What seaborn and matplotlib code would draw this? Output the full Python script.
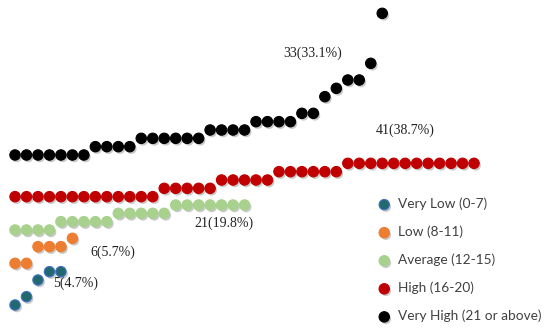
import matplotlib
matplotlib.use('Agg')
import matplotlib.pyplot as plt
import matplotlib.patheffects as pe
import pandas as pd
import seaborn as sns

# Sorted scores of each level (one dot per respondent).
very_low = [3, 4, 6, 7, 7]
low = [8, 8, 10, 10, 10, 11]
average = [12] * 4 + [13] * 5 + [14] * 5 + [15] * 7
high = [16] * 13 + [17] * 5 + [18] * 5 + [19] * 6 + [20] * 12
very_high = [21] * 7 + [22] * 4 + [23] * 6 + [24] * 4 + [25] * 4 + [26] * 2 + [28, 29, 30, 30, 32, 38]

levels = ['Very Low (0-7)', 'Low (8-11)', 'Average (12-15)', 'High (16-20)', 'Very High (21 or above)']
series = [very_low, low, average, high, very_high]
counts = ['5(4.7%)', '6(5.7%)', '21(19.8%)', '41(38.7%)', '33(33.1%)']

fills = ['#22696F', '#ED7D31', '#A9D18E', '#C00000', '#000000']
edges = ['#4472C4', '#ED7D31', '#A9D18E', '#C00000', '#000000']

# Position of each count label (index, score)
label_pos = [(5.25, 5.65), (8.5, 9.3), (18.2, 12.85), (34.0, 24.0), (25.9, 33.2)]

rows = []
for lvl, vals in zip(levels, series):
    for i, v in enumerate(vals):
        rows.append({'level': lvl, 'idx': i, 'score': v})
df = pd.DataFrame(rows)

sns.set_style('white')
fig = plt.figure(figsize=(5.5, 3.32), dpi=100)
ax = fig.add_axes([0, 0, 1, 1])

shadow = [pe.SimplePatchShadow(offset=(1.2, -1.5), shadow_rgbFace='#888888', alpha=0.45), pe.Normal()]

for lvl, fc, ec in zip(levels, fills, edges):
    sub = df[df['level'] == lvl]
    sns.scatterplot(data=sub, x='idx', y='score', ax=ax, color=fc, edgecolor=ec,
                    linewidth=0.8, s=56, label=lvl, path_effects=shadow)

for txt, (x, y) in zip(counts, label_pos):
    ax.text(x, y, txt, ha='center', va='center', fontsize=10,
            family='Liberation Serif', color='#222222')

ax.set_xlim(-1.31, 46.62)
ax.set_ylim(-0.24, 39.6)
ax.axis('off')

leg = ax.legend(loc='upper left', bbox_to_anchor=(0.664, 0.421), frameon=False,
                fontsize=9.8, labelspacing=1.14, handletextpad=0.0,
                borderaxespad=0, markerscale=1.0)
for t in leg.get_texts():
    t.set_family('Lato')
    t.set_color('#404040')

fig.savefig('out.png', dpi=100)
